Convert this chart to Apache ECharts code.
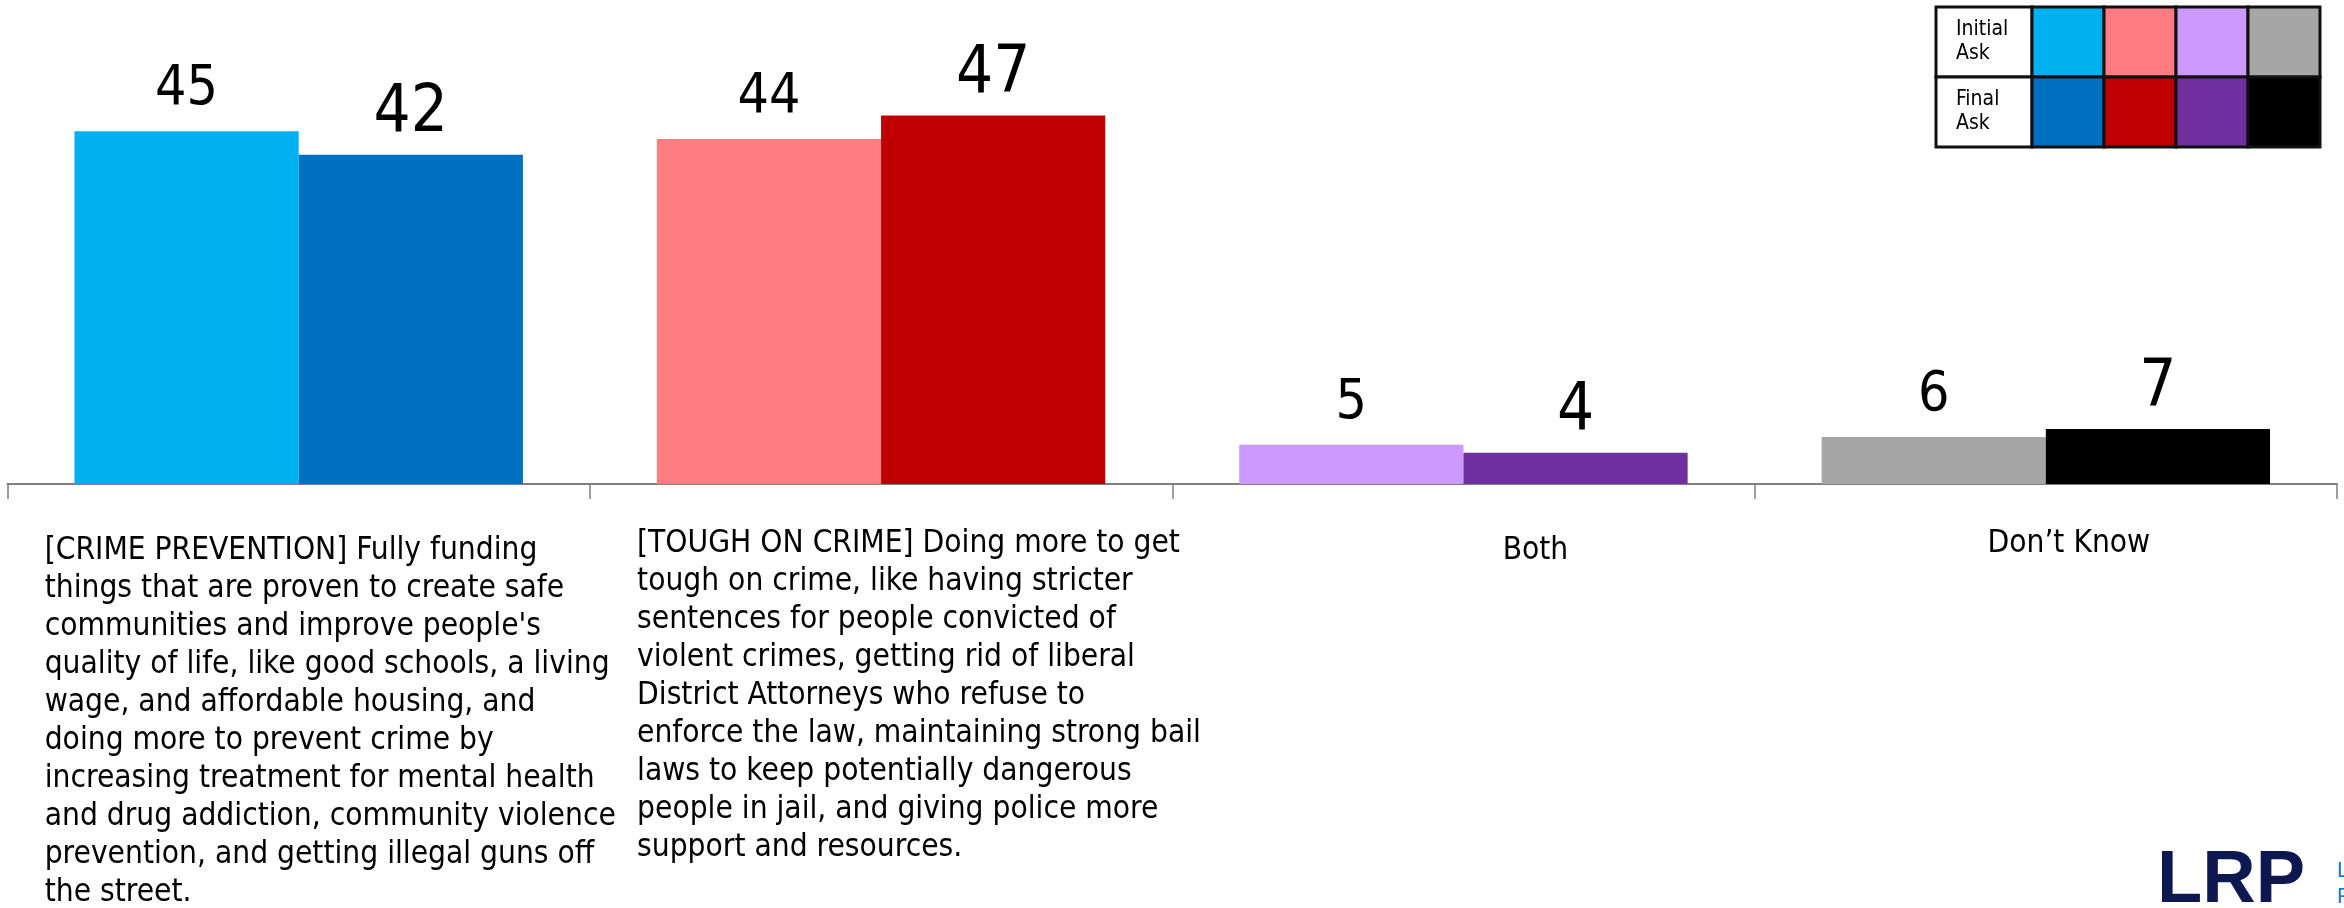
<!DOCTYPE html>
<html>
<head>
<meta charset="utf-8">
<script src="https://cdn.jsdelivr.net/npm/echarts@6.0.0/dist/echarts.min.js"></script>
<style>
html,body{margin:0;padding:0;background:#ffffff;}
#chart{width:2344px;height:908px;}
</style>
</head>
<body>
<div id="chart"></div>
<script>
// ---- data ----
const categories = [
  "[CRIME PREVENTION] Fully funding\nthings that are proven to create safe\ncommunities and improve people's\nquality of life, like good schools, a living\nwage, and affordable housing, and\ndoing more to prevent crime by\nincreasing treatment for mental health\nand drug addiction, community violence\nprevention, and getting illegal guns off\nthe street.",
  "[TOUGH ON CRIME] Doing more to get\ntough on crime, like having stricter\nsentences for people convicted of\nviolent crimes, getting rid of liberal\nDistrict Attorneys who refuse to\nenforce the law, maintaining strong bail\nlaws to keep potentially dangerous\npeople in jail, and giving police more\nsupport and resources.",
  "Both",
  "Don\u2019t Know"
];
const seriesNames = ["Initial Ask", "Final Ask"];
const initialValues = [45, 44, 5, 6];
const finalValues = [42, 47, 4, 7];
const initialColors = ["#00B0F0", "#FF7C80", "#CC99FF", "#A6A6A6"];
const finalColors = ["#0070C0", "#C00000", "#7030A0", "#000000"];
const legendLabels = ["Initial\nAsk", "Final\nAsk"];

// ---- styling ----
const FONT = "'DejaVu Sans Condensed', 'DejaVu Sans', sans-serif";
const LABEL_SIZE = 31.4;

const chart = echarts.init(document.getElementById('chart'), null, {renderer: 'canvas'});

// legend table built from the color arrays
const legendGraphics = [];
const lgX = 1936, lgY = 7, headW = 96, cellW = 72, rowH = 70;
[initialColors, finalColors].forEach((colors, r) => {
  legendGraphics.push({
    type: 'rect', shape: {x: lgX, y: lgY + r * rowH, width: headW, height: rowH},
    style: {fill: '#ffffff', stroke: '#111111', lineWidth: 3}, z: 10
  });
  legendGraphics.push({
    type: 'text', x: lgX + 20, y: lgY + r * rowH + rowH / 2,
    style: {text: legendLabels[r], fill: '#000', font: "21px " + FONT, lineHeight: 24, verticalAlign: 'middle', align: 'left'}, z: 11
  });
  colors.forEach((c, i) => {
    legendGraphics.push({
      type: 'rect', shape: {x: lgX + headW + i * cellW, y: lgY + r * rowH, width: cellW, height: rowH},
      style: {fill: c, stroke: '#111111', lineWidth: 3}, z: 10
    });
  });
});
// logo (partially cut at the bottom edge)
legendGraphics.push({
  type: 'text', x: 2157, y: 882,
  style: {text: 'LRP', fill: '#0E1850', font: "bold 74px 'Liberation Sans', Arial, sans-serif", verticalAlign: 'middle', align: 'left'}, z: 10
});
legendGraphics.push({
  type: 'text', x: 2337, y: 858,
  style: {text: 'LAKE RESEARCH\nPARTNERS', fill: '#1F7BC1', font: "22px 'Liberation Sans', Arial, sans-serif", lineHeight: 26, verticalAlign: 'top', align: 'left'}, z: 10
});

const xData = categories.map((c, i) => {
  const pads = [[7, 0, 0, 0], [0, 0, 0, 0], [7, 0, 0, 144], [0, 0, 0, 46]];
  return {value: c, textStyle: {padding: pads[i]}};
});

const option = {
  backgroundColor: '#ffffff',
  animation: false,
  grid: {left: 7.5, right: 7, top: 92, bottom: 424, containLabel: false, outerBoundsMode: 'none'},
  xAxis: {
    type: 'category',
    data: xData,
    axisLine: {show: true, lineStyle: {color: '#808080', width: 2}},
    axisTick: {show: true, length: 15, lineStyle: {color: '#808080', width: 1.5}},
    axisLabel: {
      interval: 0,
      hideOverlap: false,
      margin: 41,
      color: '#000',
      fontFamily: FONT,
      fontSize: LABEL_SIZE,
      lineHeight: 38,
      formatter: (v, i) => '{c' + i + '|' + v + '}',
      rich: {
        c0: {width: 508, align: 'left', fontFamily: FONT, fontSize: LABEL_SIZE, lineHeight: 38, color: '#000'},
        c1: {width: 488, align: 'left', fontFamily: FONT, fontSize: LABEL_SIZE, lineHeight: 38, color: '#000'},
        c2: {align: 'center', fontFamily: FONT, fontSize: LABEL_SIZE, lineHeight: 38, color: '#000'},
        c3: {align: 'center', fontFamily: FONT, fontSize: LABEL_SIZE, lineHeight: 38, color: '#000'}
      }
    }
  },
  yAxis: {
    type: 'value', min: 0, max: 50, show: false,
    splitLine: {show: false}
  },
  series: [
    {
      name: seriesNames[0], type: 'bar', data: initialValues,
      barGap: '0%', barCategoryGap: '23%',
      itemStyle: {color: p => initialColors[p.dataIndex]},
      label: {show: true, position: 'top', distance: 14, color: '#000', fontFamily: FONT, fontSize: 55}
    },
    {
      name: seriesNames[1], type: 'bar', data: finalValues,
      barGap: '0%', barCategoryGap: '23%',
      itemStyle: {color: p => finalColors[p.dataIndex]},
      label: {show: true, position: 'top', distance: 8, color: '#000', fontFamily: FONT, fontSize: 65}
    }
  ],
  graphic: legendGraphics
};
chart.setOption(option);
</script>
</body>
</html>
